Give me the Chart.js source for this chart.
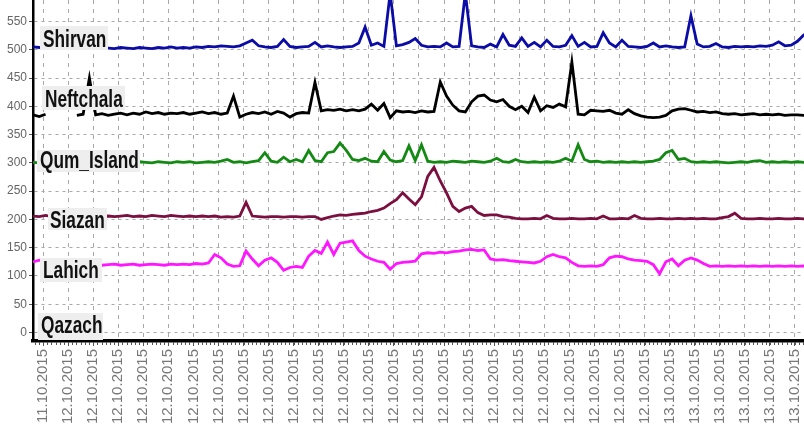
<!DOCTYPE html>
<html>
<head>
<meta charset="utf-8">
<script src="https://cdn.jsdelivr.net/npm/chart.js@4"></script>
<style>
html, body { margin: 0; padding: 0; background: #fff; overflow: hidden; }
#wrap { width: 804px; height: 435px; overflow: hidden; }
</style>
</head>
<body>
<div id="wrap"><canvas id="chart" width="830" height="435"></canvas></div>
<script>
// hourly tick labels, starting 11.10.2015 23:00
const tickLabels = [
    '11.10.2015',
    '12.10.2015', '12.10.2015', '12.10.2015', '12.10.2015', '12.10.2015', '12.10.2015',
    '12.10.2015', '12.10.2015', '12.10.2015', '12.10.2015', '12.10.2015', '12.10.2015',
    '12.10.2015', '12.10.2015', '12.10.2015', '12.10.2015', '12.10.2015', '12.10.2015',
    '12.10.2015', '12.10.2015', '12.10.2015', '12.10.2015', '12.10.2015', '12.10.2015',
    '13.10.2015', '13.10.2015', '13.10.2015', '13.10.2015', '13.10.2015', '13.10.2015'
];

const yTicks = [0, 50, 100, 150, 200, 250, 300, 350, 400, 450, 500, 550];

const seriesNames = ['Shirvan', 'Neftchala', 'Qum_Island', 'Siazan', 'Lahich', 'Qazach'];

// samples every 15 min, first one 0.4 h before the first tick (hours)
const sampleStart = -0.4;
const sampleStep = 0.25;

const shirvan = [
    505,504,505,503,505,504,503,505,504,503,
    505,504,503,502,504,503,502,504,503,502,
    504,503,505,503,504,503,505,504,506,505,
    507,506,505,507,512,517,507,505,504,506,
    518,506,504,505,506,513,505,507,505,504,
    505,506,512,540,508,512,506,600,507,509,
    513,520,508,505,506,505,512,505,506,600,
    507,505,504,510,505,527,508,506,521,506,
    513,505,517,506,505,508,525,506,513,505,
    506,530,512,505,517,506,505,504,506,512,
    505,507,505,504,505,560,510,505,506,511,
    505,504,506,505,506,505,507,506,508,514,
    507,508,515,526,530,532,532
];

const neftchala = [
    385,382,386,null,null,null,null,384,386,450,
    385,387,384,386,388,385,388,386,390,387,
    389,386,388,387,389,386,388,390,387,389,
    386,388,418,381,386,389,387,390,386,391,
    388,381,387,389,388,442,392,394,393,395,
    392,394,392,395,404,393,405,380,392,390,
    391,389,392,390,391,443,418,402,392,390,
    408,418,420,411,408,412,400,394,400,389,
    416,392,401,398,404,399,478,386,385,393,
    392,391,393,388,386,394,387,383,381,380,
    381,384,392,395,396,393,390,391,389,390,
    387,386,387,385,386,387,385,386,385,386,
    384,385,385,384,385,384,385
];

const qumIsland = [
    301,300,301,300,302,301,300,301,302,300,
    301,302,300,301,302,300,301,302,301,300,
    302,301,300,302,301,302,300,301,302,301,
    303,306,301,302,300,302,304,318,303,301,
    310,302,306,302,322,304,302,318,320,335,
    322,306,304,308,303,302,320,305,302,304,
    330,304,332,303,301,302,301,303,302,301,
    303,302,301,303,308,302,301,306,302,301,
    302,301,302,301,303,308,303,332,306,302,
    303,301,302,301,302,301,302,301,302,303,
    306,318,322,306,308,302,301,302,301,302,
    301,300,301,302,301,303,304,301,302,301,
    302,301,302,301,302,301,302
];

const siazan = [
    206,205,207,205,206,205,206,205,206,205,
    206,205,206,205,206,207,205,206,205,207,
    206,205,207,206,205,206,205,206,205,206,
    204,205,204,206,230,206,205,204,205,205,
    204,205,205,204,205,205,200,203,206,208,
    207,209,210,211,214,216,220,228,235,247,
    236,226,240,276,292,268,247,223,214,220,
    223,212,207,208,208,205,204,202,201,201,
    202,201,207,202,201,201,202,201,201,202,
    201,206,201,201,202,201,207,202,201,201,
    202,201,201,202,201,202,201,202,201,201,
    203,205,211,202,201,201,202,201,201,202,
    201,201,202,201,201,202,201
];

const lahich = [
    125,128,125,122,120,121,120,119,120,121,
    120,119,120,121,119,120,121,119,120,121,
    120,119,121,120,121,120,122,121,123,138,
    132,121,117,118,144,130,118,128,132,124,
    110,115,117,115,135,145,140,160,138,158,
    160,162,145,135,130,126,124,112,122,124,
    125,126,139,141,140,142,141,143,144,146,
    147,145,146,130,128,129,127,126,125,124,
    123,126,134,138,134,132,124,118,117,118,
    117,120,132,135,134,130,128,127,126,120,
    104,125,130,118,128,132,128,122,117,118,
    117,118,117,118,117,118,117,118,117,118,
    117,118,117,118,117,118,117
];

const seriesData = [shirvan, neftchala, qumIsland, siazan, lahich];
const seriesColors = ['#0b0ba6', '#000000', '#148a14', '#7b0f3f', '#ff16ff'];

// name boxes: box x, y, w, h, text x, text baseline
const labelBoxes = [
    [40, 26, 68, 24, 43, 47],
    [42, 86, 83, 24, 45, 107],
    [37, 150, 103, 22, 40, 168],
    [48, 208, 59, 22, 50, 228],
    [40, 258, 62, 24, 43, 278],
    [38, 313, 65, 27, 41, 333]
];

Chart.defaults.font.family = '"Liberation Sans", Arial, sans-serif';

function toPoints(values) {
    return values.map((v, i) => ({x: sampleStart + i * sampleStep, y: v}));
}

const seriesLabels = {
    id: 'seriesLabels',
    afterDatasetsDraw(chart) {
        const c = chart.ctx;
        seriesNames.forEach((name, k) => {
            const [bx, by, bw, bh, tx, ty] = labelBoxes[k];
            c.save();
            c.fillStyle = '#eeeeee';
            c.fillRect(bx, by, bw, bh);
            c.translate(tx, ty);
            c.scale(0.72, 1);
            c.font = 'bold 24px "Liberation Sans", Arial, sans-serif';
            c.fillStyle = '#111';
            c.fillText(name, 0, 0);
            c.restore();
        });
    }
};

// small 10-minute ticks under the x axis
const minorTicks = {
    id: 'minorTicks',
    afterDraw(chart) {
        const xs = chart.scales.x;
        const c = chart.ctx;
        const bottom = chart.chartArea.bottom;
        c.save();
        c.strokeStyle = '#555';
        c.lineWidth = 1;
        c.beginPath();
        for (let k = Math.ceil(xs.min * 6); k <= xs.max * 6; k++) {
            const px = Math.round(xs.getPixelForValue(k / 6)) + 0.5;
            c.moveTo(px, bottom + 1);
            c.lineTo(px, bottom + 4);
        }
        c.stroke();
        c.restore();
    }
};

const ctx = document.getElementById('chart').getContext('2d');

new Chart(ctx, {
    type: 'line',
    data: {
        datasets: seriesData.map((vals, k) => ({
            label: seriesNames[k],
            data: toPoints(vals),
            borderColor: seriesColors[k],
            borderWidth: 2.8,
            pointRadius: 0,
            tension: 0,
            fill: false
        }))
    },
    options: {
        responsive: false,
        animation: false,
        layout: {padding: {top: 0, left: 0, right: 10, bottom: 0}},
        plugins: {legend: {display: false}, tooltip: {enabled: false}},
        scales: {
            x: {
                type: 'linear',
                min: -0.4,
                max: 31,
                afterBuildTicks(s) { s.ticks = tickLabels.map((t, i) => ({value: i})); },
                afterFit(s) { s.height = 94; s.paddingLeft = 0; s.paddingRight = 0; },
                grid: {color: '#a8a8a8', lineWidth: 1, tickLength: 5, tickColor: '#555'},
                border: {color: '#000', width: 3.5, dash: [4, 5]},
                ticks: {
                    autoSkip: false, maxRotation: 90, minRotation: 90, padding: 3,
                    color: '#777', font: {size: 15},
                    callback: v => tickLabels[v] ?? ''
                }
            },
            y: {
                min: -15,
                max: 588,
                afterBuildTicks(s) { s.ticks = yTicks.map(v => ({value: v})); },
                afterFit(s) { s.width = 33; s.paddingTop = 0; s.paddingBottom = 0; },
                grid: {color: '#a8a8a8', lineWidth: 1, tickLength: 4, tickColor: '#555'},
                border: {color: '#000', width: 2.5, dash: [3, 4]},
                ticks: {padding: 2, color: '#666', font: {size: 12}}
            }
        }
    },
    plugins: [seriesLabels, minorTicks]
});
</script>
</body>
</html>
